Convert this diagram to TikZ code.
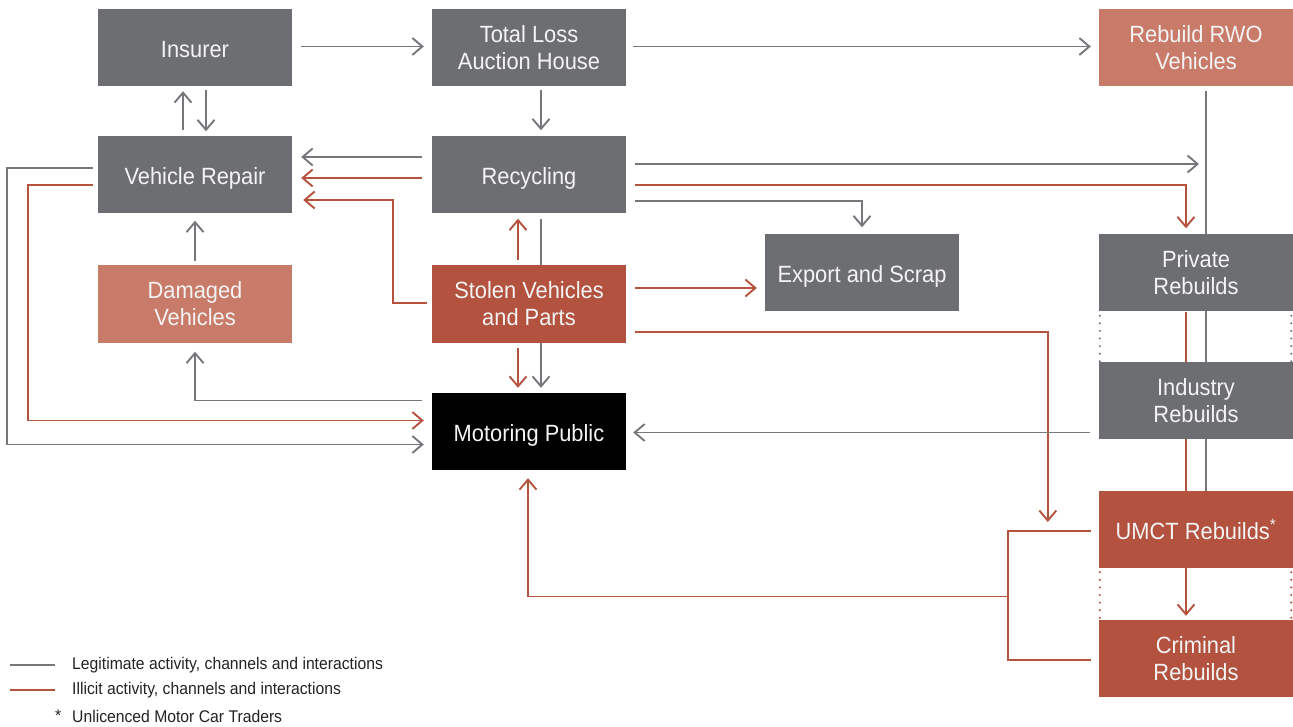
\documentclass[tikz,border=0pt]{standalone}
\usepackage{fontspec}
\setmainfont{Liberation Sans}[FakeStretch=0.93]
\usetikzlibrary{arrows.meta,calc}

\definecolor{boxgray}{HTML}{6D6E71}
\definecolor{boxsalmon}{HTML}{C97B6A}
\definecolor{boxred}{HTML}{B2523F}
\definecolor{boxtext}{HTML}{F4F4F4}
\definecolor{linegray}{HTML}{76777A}
\definecolor{linered}{HTML}{B5533F}
\definecolor{legendtext}{HTML}{232323}

\pgfdeclarelayer{bg}
\pgfsetlayers{bg,main}

\begin{document}
\begin{tikzpicture}[x=1pt,y=-1pt,
  box/.style={minimum width=194pt,minimum height=77pt,inner sep=0pt,align=center,
              text=boxtext,font=\fontsize{23.5}{27}\selectfont},
  oneline/.style={text height=19.8pt,text depth=0pt},
  twoline/.style={execute at begin node={\rule{0pt}{20.5pt}}},
  legit/.style={box,fill=boxgray},
  damaged/.style={box,fill=boxsalmon},
  illicit/.style={box,fill=boxred},
  public/.style={box,fill=black},
  gl/.style={draw=linegray,line width=1.9pt},
  rl/.style={draw=linered,line width=1.9pt},
  tip/.style={-{Straight Barb[length=10pt,width=17pt]}},
  dotline/.style={line width=2.3pt,line cap=round,dash pattern=on 0pt off 7.6pt},
  legend/.style={anchor=west,inner sep=0pt,text=legendtext,font=\fontsize{16.9}{20}\selectfont}]

\useasboundingbox (0,0) rectangle (1293,727);

% ---- boxes ----
\node[legit,oneline]   (ins)  at (195,47.5)   {Insurer};
\node[legit,twoline]   (tla)  at (529,47.5)   {Total Loss\\Auction House};
\node[damaged,twoline] (rwo)  at (1196,47.5)  {Rebuild RWO\\Vehicles};
\node[legit,oneline]   (vr)   at (195,175)    {Vehicle Repair};
\node[legit,oneline]   (rec)  at (529,175)    {Recycling};
\node[damaged,twoline] (dam)  at (195,304)    {Damaged\\Vehicles};
\node[illicit,twoline] (stol) at (529,304)    {Stolen Vehicles\\and Parts};
\node[legit,oneline]   (exp)  at (862,273)    {Export and Scrap};
\node[legit,twoline]   (priv) at (1196,273)   {Private\\Rebuilds};
\node[legit,twoline]   (ind)  at (1196,400.5) {Industry\\Rebuilds};
\node[public,oneline]  (mp)   at (529,431.5)  {Motoring Public};
\node[illicit,oneline] (umct) at (1196,529.5) {UMCT Rebuilds\textsuperscript{*}};
\node[illicit,twoline] (crim) at (1196,658.5) {Criminal\\Rebuilds};

% ---- lines running behind boxes ----
\begin{pgfonlayer}{bg}
  \draw[gl,tip] ($(rec.south)+(12,5)$) -- ($(mp.north)+(12,-5)$);
  \draw[gl] ($(rwo.south)+(10,5)$) -- ($(umct.north)+(10,0)$);
  \draw[rl] ($(priv.south)+(-10,0)$) -- ($(umct.north)+(-10,0)$);
\end{pgfonlayer}

% ---- dotted joins in the rebuild column ----
\draw[linegray,dotline] ($(priv.south west)+(1,4)$) -- ($(ind.north west)+(1,0)$);
\draw[linegray,dotline] ($(priv.south east)+(-2,4)$) -- ($(ind.north east)+(-2,0)$);
\draw[linered,dotline] ($(umct.south west)+(1,4)$) -- ($(crim.north west)+(1,0)$);
\draw[linered,dotline] ($(umct.south east)+(-2,4)$) -- ($(crim.north east)+(-2,0)$);

% ---- top row ----
\draw[gl,tip] ($(ins.east)+(9,-1)$) -- ($(tla.west)+(-8,-1)$);
\draw[gl,tip] ($(tla.east)+(7,-1)$) -- ($(rwo.west)+(-8,-1)$);
\draw[gl,tip] ($(vr.north)+(-12,-6)$) -- ($(ins.south)+(-12,5)$);
\draw[gl,tip] ($(ins.south)+(11,4)$) -- ($(vr.north)+(11,-5)$);
\draw[gl,tip] ($(tla.south)+(12,4)$) -- ($(rec.north)+(12,-6)$);

% ---- into vehicle repair ----
\draw[gl,tip] ($(rec.west)+(-10,-18)$) -- ($(vr.east)+(9,-18)$);
\draw[rl,tip] ($(rec.west)+(-10,3)$) -- ($(vr.east)+(9,3)$);
\draw[rl,tip] ($(stol.west)+(-5,-1)$) -- ++(-34,0) |- ($(vr.east)+(11,25)$);
\draw[gl,tip] ($(dam.north)+(0,-4)$) -- ($(vr.south)+(0,7)$);
\draw[gl,tip] ($(mp.west)+(-10,-31)$) -| ($(dam.south)+(0,9)$);

% ---- vehicle repair out to the public ----
\draw[gl,tip] ($(vr.west)+(-5,-7)$) -- ++(-86,0) |- ($(mp.west)+(-8,13)$);
\draw[rl,tip] ($(vr.west)+(-5,10)$) -- ++(-65,0) |- ($(mp.west)+(-8,-11)$);

% ---- stolen vehicles and parts ----
\draw[rl,tip] ($(stol.north)+(-11,-5)$) -- ($(rec.south)+(-11,5)$);
\draw[rl,tip] ($(stol.south)+(-11,5)$) -- ($(mp.north)+(-11,-5)$);
\coordinate (expIn) at ($(exp.west)+(-8,0)$);
\coordinate (s1) at ($(stol.east)+(9,-16)$);
\draw[rl,tip] (s1) -- (s1 -| expIn);
\coordinate (umctDrop) at ($(umct.west)+(-51,-7.5)$);
\draw[rl,tip] ($(stol.east)+(9,28)$) -| (umctDrop);

% ---- recycling outputs ----
\coordinate (rwoLine) at ($(priv.north)+(3,0)$);
\coordinate (r1) at ($(rec.east)+(9,-11)$);
\draw[gl,tip] (r1) -- (r1 -| rwoLine);
\draw[rl,tip] ($(rec.east)+(9,10)$) -| ($(priv.north)+(-10,-6)$);
\draw[gl,tip] ($(rec.east)+(9,26)$) -| ($(exp.north)+(0,-7)$);

% ---- rebuild outputs ----
\draw[gl,tip] ($(ind.west)+(-9,32)$) -- ($(mp.east)+(7,1)$);
\draw[rl,tip] ($(umct.south)+(-10,0)$) -- ($(crim.north)+(-10,-4)$);
\coordinate (u1) at ($(umct.west)+(-8,1.5)$);
\coordinate (c1) at ($(crim.west)+(-8,1.5)$);
\coordinate (join) at ($(umct.west)!0.5!(crim.west)+(-91,2.5)$);
\draw[rl] (u1) -| (join) |- (c1);
\draw[rl,tip] (join) -| ($(mp.south)+(-1,8)$);

% ---- legend ----
\coordinate (lgA) at (10,665);
\coordinate (lgB) at (55,665);
\coordinate (lrA) at (10,690);
\coordinate (lrB) at (55,690);
\draw[linegray,line width=2.6pt] (lgA) -- (lgB);
\draw[linered,line width=2.6pt] (lrA) -- (lrB);
\node[legend] (lgT) at (72,665) {Legitimate activity, channels and interactions};
\node[legend] (lrT) at (72,690) {Illicit activity, channels and interactions};
\node[legend] (star) at (55,716) {*};
\node[legend] (lsT) at (72,716) {Unlicenced Motor Car Traders};
\end{tikzpicture}
\end{document}
